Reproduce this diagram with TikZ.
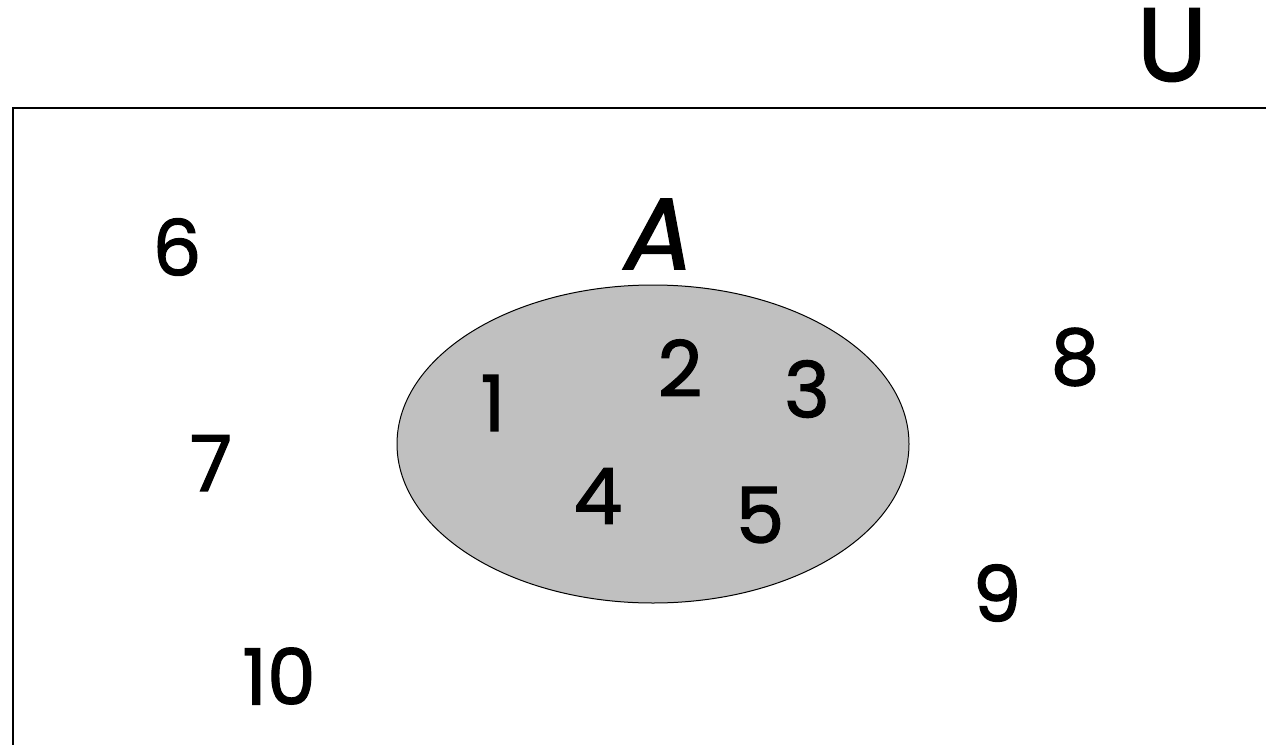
\documentclass[tikz,border=0pt]{standalone}
\usepackage{fontspec}
\setmainfont{Poppins}
\newfontfamily\markerfont{Poppins}[FakeBold=1.6]
\usepackage{tikz}

\tikzset{
  elem/.style={inner sep=0.75pt, font=\markerfont\fontsize{58}{60}\selectfont},
  setname/.style={inner sep=0.75pt, font=\markerfont\fontsize{78}{80}\selectfont},
}

\begin{document}
\begin{tikzpicture}[x=0.75pt,y=0.75pt,yscale=-1,xscale=1]
\useasboundingbox (0,0) rectangle (1266,745);
\clip (0,0) rectangle (1266,745);

%Shape: Rectangle (universe)
\draw [line width=1.5] (13,108) -- (1275,108) -- (1275,755) -- (13,755) -- cycle ;
%Shape: Ellipse (set A)
\draw [fill={rgb, 255:red, 192; green, 192; blue, 192 }, line width=0.75] (653,444) ellipse [x radius=256, y radius=159];

% Text Node
\node [setname] (univ) at (1172,45) {U};
% Text Node
\node [setname, font=\markerfont\fontsize{76}{78}\selectfont\itshape] (setA) at (659,234) {A};
% Text Node
\node [elem] (n1) at (493,403) {1};
\node [elem] (n2) at (680,368) {2};
\node [elem] (n3) at (807,389) {3};
\node [elem] (n4) at (598,496) {4};
\node [elem] (n5) at (760,515) {5};
% Text Node
\node [elem] (n6) at (177,247) {6};
\node [elem] (n7) at (211,463) {7};
\node [elem] (n8) at (1075,357) {8};
\node [elem] (n9) at (997,593) {9};
\node [elem] (n10) at (279,676) {10};

\end{tikzpicture}
\end{document}
